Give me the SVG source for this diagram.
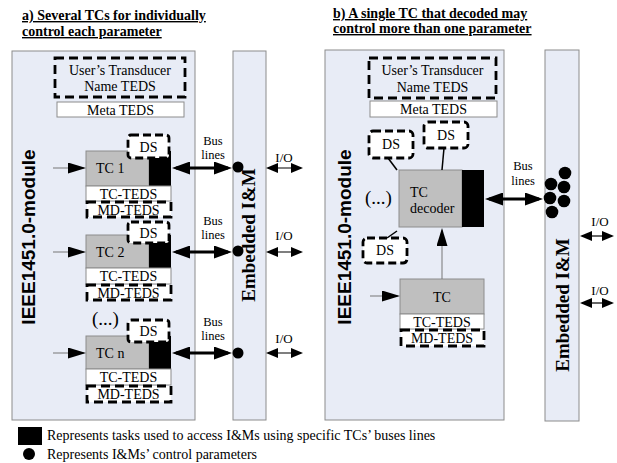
<svg xmlns="http://www.w3.org/2000/svg" width="617" height="463" viewBox="0 0 617 463">
<defs>
<style>
.mod{fill:#e8ecf6;stroke:#8c8c8c;stroke-width:1}
.tc{fill:#bfbfbf;stroke:#8c8c8c;stroke-width:1}
.blk{fill:#000}
.wb{fill:#fff;stroke:#8c8c8c;stroke-width:1}
.dash{fill:none;stroke:#000;stroke-width:2.8;stroke-dasharray:9 5}
.dashw{fill:#fff;stroke:#000;stroke-width:2.8;stroke-dasharray:9 5}
.ds{fill:#fff;stroke:#000;stroke-width:2.8;stroke-dasharray:8 4}
.t{font-family:"Liberation Serif","Times New Roman",serif;font-size:14px;fill:#000}
.bl{font-family:"Liberation Serif","Times New Roman",serif;font-size:12.5px;fill:#000;text-anchor:middle}
.m{text-anchor:middle}
.io{font-family:"Liberation Serif","Times New Roman",serif;font-size:13px;fill:#000;text-anchor:middle}
.ttl{font-family:"Liberation Serif","Times New Roman",serif;font-size:14px;font-weight:bold;fill:#000;text-decoration:underline}
.mv{font-family:"Liberation Sans",Arial,sans-serif;font-size:19px;font-weight:bold;fill:#000;text-anchor:middle}
.em{font-family:"Liberation Serif","Times New Roman",serif;font-size:19px;font-weight:bold;fill:#000;text-anchor:middle}
.dots{font-family:"Liberation Serif","Times New Roman",serif;font-size:19px;fill:#000}
.bus{stroke:#000;stroke-width:3.2;fill:none}
.inp{stroke:#777;stroke-width:1;fill:none}
.iol{stroke:#000;stroke-width:1.2;fill:none}
.lk{stroke:#000;stroke-width:1.5;fill:none}
</style>
<marker id="bh" viewBox="0 0 18 13" markerWidth="18" markerHeight="13" refX="14" refY="6.5" orient="auto-start-reverse" markerUnits="userSpaceOnUse"><path d="M0,0 L18,6.5 L0,13 z" fill="#000"/></marker>
<marker id="ih" viewBox="0 0 18 11" markerWidth="18" markerHeight="11" refX="16" refY="5.5" orient="auto" markerUnits="userSpaceOnUse"><path d="M0,0 L18,5.5 L0,11 z" fill="#000"/></marker>
<marker id="oh" viewBox="0 0 12 10" markerWidth="12" markerHeight="10" refX="10" refY="5" orient="auto-start-reverse" markerUnits="userSpaceOnUse"><path d="M0,0 L12,5 L0,10 z" fill="#000"/></marker>
</defs>
<rect width="617" height="463" fill="#fff"/>

<!-- Titles -->
<g id="title-a">
<text class="ttl" x="22" y="20">a) Several TCs for individually</text>
<text class="ttl" x="22" y="36">control each parameter</text>
</g>
<g id="title-b">
<text class="ttl" x="333" y="18">b) A single TC that decoded may</text>
<text class="ttl" x="333" y="33">control more than one parameter</text>
</g>

<!-- Panel a -->
<g id="module-a">
<rect class="mod" x="12" y="51" width="183" height="369"/>
<text class="mv" transform="translate(35,237) rotate(-90)">IEEE1451.0-module</text>
</g>
<g id="embedded-a">
<rect class="mod" x="233" y="51" width="33" height="369"/>
<text class="em" transform="translate(255,235) rotate(-90)">Embedded I&amp;M</text>
</g>
<g id="user-teds-a">
<rect class="dash" x="55" y="58" width="130" height="39"/>
<text class="t m" x="120" y="75">User’s Transducer</text>
<text class="t m" x="120" y="91">Name TEDS</text>
</g>
<g id="meta-teds-a">
<rect class="wb" x="57" y="102" width="127" height="15"/>
<text class="t m" x="120.5" y="115">Meta TEDS</text>
</g>

<g id="tc1">
<rect class="tc" x="86" y="151" width="63" height="35"/>
<rect class="blk" x="149" y="151" width="22" height="35"/>
<text class="t" x="96" y="173">TC 1</text>
<rect class="wb" x="86" y="186" width="85" height="15"/>
<text class="t m" x="128.5" y="199">TC-TEDS</text>
<rect class="dashw" x="87" y="202" width="84" height="15"/>
<text class="t m" x="128.5" y="215">MD-TEDS</text>
<rect class="ds" x="128" y="135" width="41" height="23" rx="3"/>
<text class="t m" x="148.5" y="152">DS</text>
</g>
<g id="tc2">
<rect class="tc" x="86" y="235" width="63" height="33"/>
<rect class="blk" x="149" y="235" width="22" height="33"/>
<text class="t" x="96" y="257">TC 2</text>
<rect class="wb" x="86" y="268" width="85" height="16"/>
<text class="t m" x="128.5" y="281">TC-TEDS</text>
<rect class="dashw" x="87" y="285" width="84" height="15"/>
<text class="t m" x="128.5" y="298">MD-TEDS</text>
<rect class="ds" x="128" y="222" width="41" height="21" rx="3"/>
<text class="t m" x="148.5" y="238">DS</text>
</g>
<g id="tcn">
<text class="dots" x="92" y="325">(...)</text>
<rect class="tc" x="86" y="336" width="63" height="33"/>
<rect class="blk" x="149" y="336" width="22" height="33"/>
<text class="t" x="96" y="358">TC n</text>
<rect class="wb" x="86" y="369" width="85" height="16"/>
<text class="t m" x="128.5" y="382">TC-TEDS</text>
<rect class="dashw" x="87" y="386" width="84" height="16"/>
<text class="t m" x="128.5" y="399">MD-TEDS</text>
<rect class="ds" x="128" y="320" width="41" height="22" rx="3"/>
<text class="t m" x="148.5" y="336">DS</text>
</g>

<g id="labels-a">
<text class="bl" x="213" y="145">Bus</text>
<text class="bl" x="213" y="159">lines</text>
<text class="bl" x="213" y="225">Bus</text>
<text class="bl" x="213" y="239">lines</text>
<text class="bl" x="213" y="326">Bus</text>
<text class="bl" x="213" y="340">lines</text>
<text class="io" x="284" y="162">I/O</text>
<text class="io" x="284" y="240">I/O</text>
<text class="io" x="284" y="343">I/O</text>
</g>

<!-- Panel b -->
<g id="module-b">
<rect class="mod" x="325" y="50" width="179" height="370"/>
<text class="mv" transform="translate(351,237) rotate(-90)">IEEE1451.0-module</text>
</g>
<g id="embedded-b">
<rect class="mod" x="545" y="50" width="34" height="371"/>
<text class="em" transform="translate(569,305) rotate(-90)">Embedded I&amp;M</text>
</g>
<g id="user-teds-b">
<rect class="dash" x="369" y="58" width="127" height="40"/>
<text class="t m" x="432.5" y="75">User’s Transducer</text>
<text class="t m" x="432.5" y="92">Name TEDS</text>
</g>
<g id="meta-teds-b">
<rect class="wb" x="370" y="101" width="127" height="16"/>
<text class="t m" x="433.5" y="114">Meta TEDS</text>
</g>
<g id="ds-b1">
<rect class="ds" x="369" y="131" width="44" height="27" rx="4"/>
<text class="t m" x="391" y="149">DS</text>
</g>
<g id="ds-b2">
<rect class="ds" x="424" y="122" width="44" height="26" rx="4"/>
<text class="t m" x="446" y="140">DS</text>
</g>
<g id="ds-b3">
<rect class="ds" x="363" y="238" width="44" height="25" rx="4"/>
<text class="t m" x="385" y="255">DS</text>
</g>
<g id="tc-decoder">
<rect class="tc" x="399" y="170" width="63" height="57"/>
<rect class="blk" x="462" y="170" width="22" height="57"/>
<text class="t" x="410" y="197">TC</text>
<text class="t" x="410" y="213">decoder</text>
<text class="dots" x="365" y="204">(...)</text>
</g>
<g id="tc-b">
<rect class="tc" x="400" y="279" width="84" height="35"/>
<text class="t m" x="442" y="302">TC</text>
<rect class="wb" x="400" y="314" width="84" height="15"/>
<text class="t m" x="442" y="327">TC-TEDS</text>
<rect class="dashw" x="401" y="330" width="83" height="16"/>
<text class="t m" x="442" y="343">MD-TEDS</text>
</g>
<g id="labels-b">
<text class="bl" x="523" y="170">Bus</text>
<text class="bl" x="523" y="185">lines</text>
<text class="io" x="600" y="226">I/O</text>
<text class="io" x="600" y="295">I/O</text>
</g>
<g id="params-b">
<circle cx="565" cy="173" r="6.3"/>
<circle cx="551" cy="184" r="6.3"/>
<circle cx="564" cy="187" r="6.3"/>
<circle cx="550" cy="198" r="6.3"/>
<circle cx="564" cy="201" r="6.3"/>
<circle cx="552" cy="212" r="6.3"/>
</g>

<!-- Connectors -->
<g id="connectors">
<line class="inp" x1="53" y1="168" x2="84" y2="168" marker-end="url(#ih)"/>
<line class="inp" x1="53" y1="252" x2="84" y2="252" marker-end="url(#ih)"/>
<line class="inp" x1="53" y1="353" x2="84" y2="353" marker-end="url(#ih)"/>
<line class="bus" x1="176" y1="168" x2="228" y2="168" marker-start="url(#bh)" marker-end="url(#bh)"/>
<line class="bus" x1="176" y1="252" x2="228" y2="252" marker-start="url(#bh)" marker-end="url(#bh)"/>
<line class="bus" x1="176" y1="353" x2="228" y2="353" marker-start="url(#bh)" marker-end="url(#bh)"/>
<circle cx="238" cy="167" r="5.5"/>
<circle cx="238" cy="251" r="5.5"/>
<circle cx="238" cy="353" r="5.5"/>
<line class="iol" x1="268" y1="168" x2="301" y2="168" marker-start="url(#oh)" marker-end="url(#oh)"/>
<line class="iol" x1="268" y1="252" x2="301" y2="252" marker-start="url(#oh)" marker-end="url(#oh)"/>
<line class="iol" x1="268" y1="353" x2="301" y2="353" marker-start="url(#oh)" marker-end="url(#oh)"/>
<line class="lk" x1="388" y1="158" x2="397" y2="170"/>
<line class="lk" x1="444" y1="148" x2="442" y2="170"/>
<line class="lk" x1="387" y1="238" x2="397" y2="231"/>
<line class="inp" x1="442" y1="279" x2="442" y2="230" marker-end="url(#ih)"/>
<line class="inp" x1="370" y1="296" x2="398" y2="296" marker-end="url(#ih)"/>
<line class="bus" x1="489" y1="199" x2="539" y2="199" marker-start="url(#bh)" marker-end="url(#bh)"/>
<line class="iol" x1="582" y1="236" x2="612" y2="236" marker-start="url(#oh)" marker-end="url(#oh)"/>
<line class="iol" x1="582" y1="303" x2="612" y2="303" marker-start="url(#oh)" marker-end="url(#oh)"/>
</g>

<!-- Legend -->
<g id="legend">
<rect class="blk" x="18" y="427" width="24" height="18"/>
<text class="t" x="47" y="440">Represents tasks used to access I&amp;Ms using specific TCs’ buses lines</text>
<circle cx="29" cy="454" r="6"/>
<text class="t" x="47" y="459">Represents I&amp;Ms’ control parameters</text>
</g>
</svg>
